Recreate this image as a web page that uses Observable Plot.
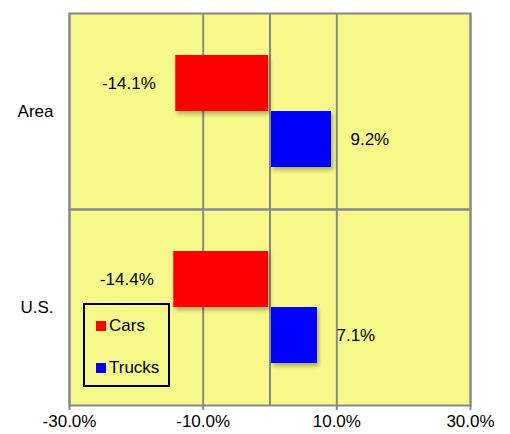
<!DOCTYPE html>
<html><head><meta charset="utf-8">
<script src="https://cdn.jsdelivr.net/npm/d3@7"></script>
<script src="https://cdn.jsdelivr.net/npm/@observablehq/plot@0.6"></script>
<style>
body{margin:0;background:#fff;}
#wrap{position:relative;width:510px;height:434px;font-family:"Liberation Sans",Arial,sans-serif;}
#legend{position:absolute;left:83px;top:303px;width:83px;height:80px;border:2px solid #000;}
.li{position:absolute;left:11px;font-size:17px;color:#000;display:flex;align-items:center;}
.sw{width:10px;height:10px;margin-right:3px;}
.bar rect{filter:drop-shadow(2px 3px 2px rgba(0,0,0,0.3));}
</style></head>
<body><div id="wrap"></div>
<script>
const regions = ["Area", "U.S."];
const series = ["Cars", "Trucks"];
const cars = [-14.1, -14.4];
const trucks = [9.2, 7.1];
const colors = ["#ff0000", "#0000ff"];
const xTicks = [-30, -10, 10, 30];
const gridValues = [-30, -10, 0, 10, 30];

const data = [];
regions.forEach((r, i) => {
  data.push({region: r, type: "Cars", value: cars[i]});
  data.push({region: r, type: "Trucks", value: trucks[i]});
});
const fmt = d => d.toFixed(1) + "%";
const neg = data.filter(d => d.value < 0);
const pos = data.filter(d => d.value >= 0);

const chart = Plot.plot({
  width: 510, height: 434,
  marginLeft: 69, marginRight: 40, marginTop: 12, marginBottom: 29,
  style: {fontFamily: '"Liberation Sans",Arial,sans-serif', fontSize: "17px", color: "#000", background: "transparent"},
  x: {domain: [-30, 30]},
  y: {domain: series, paddingInner: 0, paddingOuter: 0.75, axis: null},
  fy: {domain: regions, padding: 0},
  color: {domain: series, range: colors},
  marks: [
    Plot.frame({fill: "#f6f98a", stroke: null}),
    Plot.gridX(gridValues, {stroke: "#888", strokeOpacity: 1, strokeWidth: 2}),
    Plot.barX(data.filter(d => d.type === "Cars"), {x: "value", y: "type", fy: "region", fill: "type", insetRight: 1.5, className: "bar"}),
    Plot.barX(data.filter(d => d.type === "Trucks"), {x: "value", y: "type", fy: "region", fill: "type", insetLeft: 1.5, className: "bar"}),
    Plot.frame({stroke: "#888", strokeWidth: 2}),
    Plot.text(neg, {x: "value", y: "type", fy: "region", text: d => fmt(d.value), textAnchor: "end", dx: -20, fontSize: 17, fill: "#000"}),
    Plot.text(pos, {x: "value", y: "type", fy: "region", text: d => fmt(d.value), textAnchor: "start", dx: 19, fontSize: 17, fill: "#000"}),
    Plot.axisX(xTicks, {tickFormat: fmt, tickSize: 5, stroke: "#888", strokeWidth: 2, tickPadding: 4, label: null, fontSize: 17}),
    Plot.axisFy({anchor: "left", tickSize: 0, tickPadding: 16, label: null, fontSize: 17})
  ]
});
document.getElementById("wrap").appendChild(chart);
const leg = document.createElement("div");
leg.id = "legend";
series.forEach((s, i) => {
  const it = document.createElement("div");
  it.className = "li";
  it.style.top = (i === 0 ? 11 : 53) + "px";
  it.innerHTML = `<span class="sw" style="background:${colors[i]}"></span>${s}`;
  leg.appendChild(it);
});
document.getElementById("wrap").appendChild(leg);
</script></body></html>
